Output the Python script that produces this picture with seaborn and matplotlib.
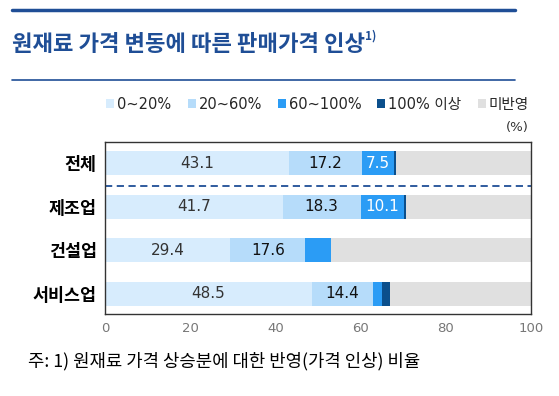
import numpy as np
import pandas as pd
import matplotlib
matplotlib.use("Agg")
import matplotlib.pyplot as plt
import seaborn as sns
from matplotlib.patches import Patch

# data
categories = ["전체", "제조업", "건설업", "서비스업"]
series_names = ["0~20%", "20~60%", "60~100%", "100% 이상", "미반영"]
share_0_20 = [43.1, 41.7, 29.4, 48.5]
share_20_60 = [17.2, 18.3, 17.6, 14.4]
share_60_100 = [7.5, 10.1, 6.0, 2.2]
share_100_plus = [0.6, 0.5, 0.0, 1.9]
share_none = [31.6, 29.4, 47.0, 33.0]
labels_0_20 = ["43.1", "41.7", "29.4", "48.5"]
labels_20_60 = ["17.2", "18.3", "17.6", "14.4"]
labels_60_100 = ["7.5", "10.1", "", ""]

colors = ["#d7ecfd", "#b6dcfa", "#2b9cf5", "#0b4f8c", "#e0e0e0"]
title_color = "#1f4e96"

sns.set_theme(style="white")
plt.rcParams["font.family"] = ["Noto Sans CJK KR", "DejaVu Sans"]
wide = ["DejaVu Sans", "Noto Sans CJK KR"]

df = pd.DataFrame({
    "category": categories,
    series_names[0]: share_0_20,
    series_names[1]: share_20_60,
    series_names[2]: share_60_100,
    series_names[3]: share_100_plus,
    series_names[4]: share_none,
})
cum = df[series_names].cumsum(axis=1)

fig = plt.figure(figsize=(5.59, 3.96), dpi=100)
ax = fig.add_axes([0.188, 0.207, 0.762, 0.435])

# stacked bars: draw cumulative totals from the back to the front
for name, col in reversed(list(zip(series_names, colors))):
    sns.barplot(x=cum[name], y=df["category"], orient="h", color=col,
                width=0.55, saturation=1, ax=ax, linewidth=0)

# segment labels
starts = cum.shift(1, axis=1).fillna(0)
label_sets = [(labels_0_20, series_names[0], "#333333"),
              (labels_20_60, series_names[1], "#111111"),
              (labels_60_100, series_names[2], "white")]
for labels, name, tc in label_sets:
    for i, lab in enumerate(labels):
        if lab:
            xc = starts[name][i] + df[name][i] / 2
            ax.text(xc, i, lab, ha="center", va="center", fontsize=11,
                    color=tc, family="DejaVu Sans")

ax.axhline(0.52, color=title_color, lw=1.3, ls=(0, (4, 2.5)))

ax.set_xlim(0, 100)
ax.set_ylim(3.47, -0.49)
ax.set_xticks([0, 20, 40, 60, 80, 100])
ax.tick_params(axis="x", colors="#777777", labelsize=9.5, length=0, pad=6)
ax.tick_params(axis="y", length=0, pad=6)
for lab in ax.get_xticklabels():
    lab.set_family("DejaVu Sans")
for lab in ax.get_yticklabels():
    lab.set_fontweight("bold")
    lab.set_fontsize(12.5)
    lab.set_color("black")
ax.set_xlabel("")
ax.set_ylabel("")
for sp in ax.spines.values():
    sp.set_visible(True)
    sp.set_color("#333333")
    sp.set_linewidth(1.0)

# legend
handles = [Patch(facecolor=c, edgecolor="none") for c in colors]
fig.legend(handles, series_names, loc="center", bbox_to_anchor=(0.568, 0.737),
           ncol=5, frameon=False, prop={"family": wide, "size": 10.5},
           handlelength=0.55, handleheight=0.55, handletextpad=0.2,
           columnspacing=1.1)
fig.text(0.945, 0.677, "(%)", ha="right", va="center", fontsize=9.5,
         color="#333333", family=wide)

# header lines and title
fig.add_artist(plt.Line2D([0.022, 0.922], [0.975, 0.975], color=title_color, lw=2.5))
fig.add_artist(plt.Line2D([0.022, 0.922], [0.798, 0.798], color=title_color, lw=1.2))
title = fig.text(0.022, 0.888, "원재료 가격 변동에 따른 판매가격 인상", ha="left",
                 va="center", fontsize=16, fontweight="bold", color=title_color)
fig.canvas.draw()
bb = title.get_window_extent().transformed(fig.transFigure.inverted())
fig.text(bb.x1 - 0.001, 0.908, "1)", ha="left", va="center", fontsize=8.5,
         fontweight="bold", color=title_color)

fig.text(0.05, 0.088, "주: 1) 원재료 가격 상승분에 대한 반영(가격 인상) 비율",
         ha="left", va="center", fontsize=12.8, color="black")

fig.savefig("out.png", dpi=100)
